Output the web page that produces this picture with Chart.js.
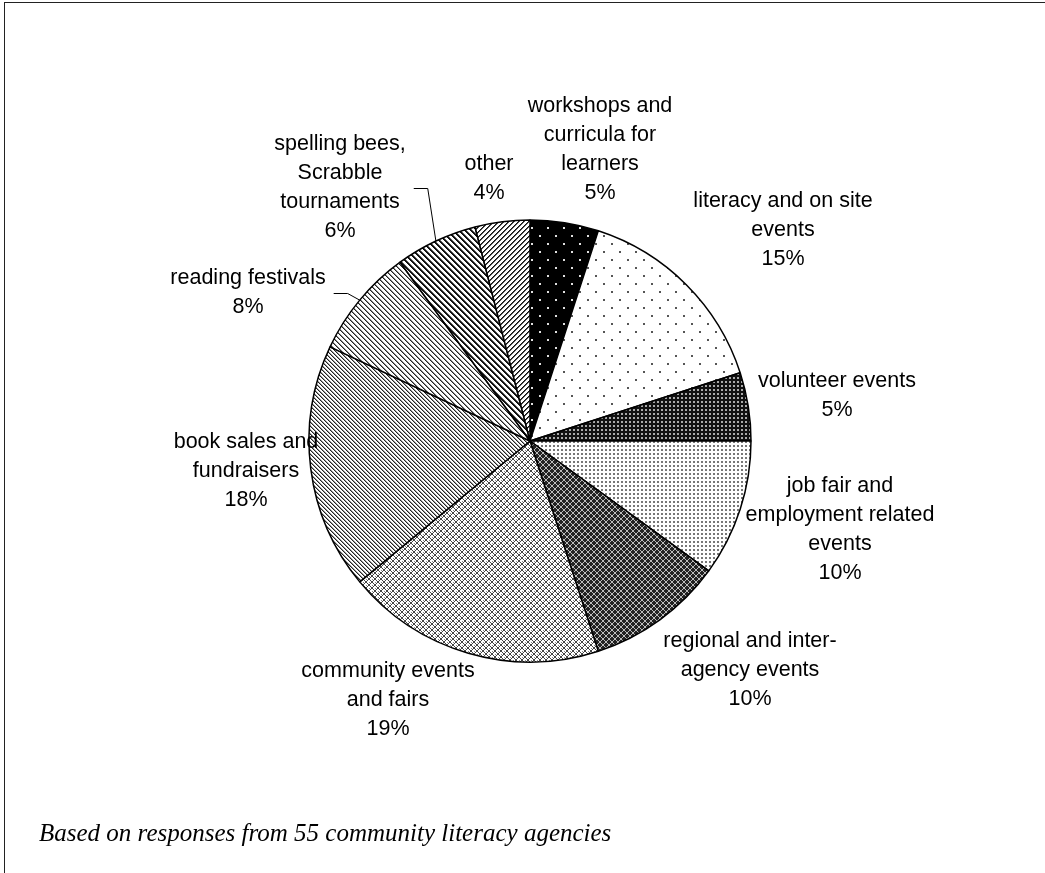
<!DOCTYPE html>
<html>
<head>
<meta charset="utf-8">
<title>Literacy events</title>
<script src="https://cdn.jsdelivr.net/npm/chart.js@4.4.0/dist/chart.umd.min.js"></script>
<style>
    html, body { margin: 0; padding: 0; background: #fff; overflow: hidden; }
    #wrap { position: relative; width: 1045px; height: 873px; overflow: hidden; }
    #frame { position: absolute; left: 4px; top: 2px; width: 1200px; height: 1000px; border: 1px solid #222; }
    #chart { position: absolute; left: 0; top: 0; }
    #note { position: absolute; left: 39px; top: 820px; font: italic 25px "Liberation Serif", "Times New Roman", serif; line-height: 25px; color: #000; white-space: nowrap; }
</style>
</head>
<body>
<div id="wrap">
    <div id="frame"></div>
    <canvas id="chart" width="1045" height="873"></canvas>
    <div id="note">Based on responses from 55 community literacy agencies</div>
</div>
<script>
// Dados (em sentido horário a partir do topo)
const categories = [
    'workshops and\ncurricula for\nlearners',
    'literacy and on site\nevents',
    'volunteer events',
    'job fair and\nemployment related\nevents',
    'regional and inter-\nagency events',
    'community events\nand fairs',
    'book sales and\nfundraisers',
    'reading festivals',
    'spelling bees,\nScrabble\ntournaments',
    'other'
];
const shares = [5, 15, 5, 10, 10, 19, 18, 8, 6, 4];

// Layout dos rótulos (deslocamento do centro da pizza até o centro do bloco de texto)
const labelOffsets = [
    [70, -291], [253, -211], [307, -45], [310, 89], [220, 229],
    [-142, 259], [-284, 30], [-282, -148], [-190, -253], [-41, -262]
];
const leaderLines = [false, false, false, false, false, false, false, true, true, false];
const LINE_HEIGHT = 29;

// Padrões de preenchimento (estilo impressão em preto e branco)
function makePattern(size, bg, draw) {
    const c = document.createElement('canvas');
    c.width = size;
    c.height = size;
    const g = c.getContext('2d');
    g.fillStyle = bg;
    g.fillRect(0, 0, size, size);
    draw(g, size);
    return c.getContext('2d').createPattern(c, 'repeat');
}

function dots(color, pts, s) {
    return (g) => {
        g.fillStyle = color;
        pts.forEach(p => g.fillRect(p[0], p[1], s, s));
    };
}

function diagonal(dir, shades) {
    return (g, n) => {
        for (let i = 0; i < n; i++) {
            shades.forEach((col, k) => {
                g.fillStyle = col;
                const x = dir === 'down' ? (i + k) % n : (n - 1 - i + k) % n;
                g.fillRect(x, i, 1, 1);
            });
        }
    };
}

function cross(color) {
    return (g, n) => {
        g.fillStyle = color;
        for (let i = 0; i < n; i++) {
            g.fillRect(i, i, 1, 1);
            g.fillRect(n - 1 - i, i, 1, 1);
        }
    };
}

const fills = [
    makePattern(16, '#000', dots('#e0e0e0', [[3, 3], [11, 11]], 2)),
    makePattern(16, '#fff', dots('#555', [[3, 3], [11, 11]], 2)),
    makePattern(4, '#111', dots('#aaa', [[1, 1]], 2)),
    makePattern(4, '#fff', dots('#777', [[1, 1]], 2)),
    makePattern(6, '#222', cross('#bbb')),
    makePattern(6, '#fff', (g, n) => { cross('#444')(g, n); dots('#888', [[0, 3], [3, 0]], 1)(g, n); }),
    makePattern(4, '#fff', diagonal('down', ['#222', '#999'])),
    makePattern(5, '#fff', diagonal('down', ['#222', '#888'])),
    makePattern(6, '#fff', diagonal('down', ['#111', '#111', '#666'])),
    makePattern(5, '#fff', diagonal('up', ['#111', '#555']))
];

// Rótulos com linhas de chamada
const sliceLabels = {
    id: 'sliceLabels',
    afterDatasetsDraw(chart) {
        const ctx = chart.ctx;
        const arcs = chart.getDatasetMeta(0).data;
        ctx.save();
        ctx.font = '21.5px "Liberation Sans", Arial, sans-serif';
        ctx.fillStyle = '#000';
        ctx.strokeStyle = '#000';
        ctx.lineWidth = 1;
        ctx.textAlign = 'center';
        ctx.textBaseline = 'middle';
        arcs.forEach((arc, i) => {
            const lines = categories[i].split('\n').concat(shares[i] + '%');
            const cx = arc.x + labelOffsets[i][0];
            const cy = arc.y + labelOffsets[i][1];
            const top = cy - (lines.length - 1) * LINE_HEIGHT / 2;
            lines.forEach((t, k) => ctx.fillText(t, cx, top + k * LINE_HEIGHT));

            if (leaderLines[i]) {
                const w = Math.max(...lines.map(t => ctx.measureText(t).width));
                const mid = (arc.startAngle + arc.endAngle) / 2;
                const ex = arc.x + arc.outerRadius * Math.cos(mid);
                const ey = arc.y + arc.outerRadius * Math.sin(mid);
                const sx = cx + w / 2 + 8;
                ctx.beginPath();
                ctx.moveTo(sx, cy + 0.5);
                ctx.lineTo(sx + 14, cy + 0.5);
                ctx.lineTo(ex, ey);
                ctx.stroke();
            }
        });
        ctx.restore();
    }
};

new Chart(document.getElementById('chart'), {
    type: 'pie',
    data: {
        labels: categories,
        datasets: [{
            data: shares,
            backgroundColor: fills,
            borderColor: '#000',
            borderWidth: 1.5,
            radius: 221
        }]
    },
    options: {
        responsive: false,
        animation: false,
        devicePixelRatio: 1,
        layout: { padding: { left: 15, right: 0, top: 9, bottom: 0 } },
        plugins: {
            legend: { display: false },
            tooltip: { enabled: false }
        }
    },
    plugins: [sliceLabels]
});
</script>
</body>
</html>
